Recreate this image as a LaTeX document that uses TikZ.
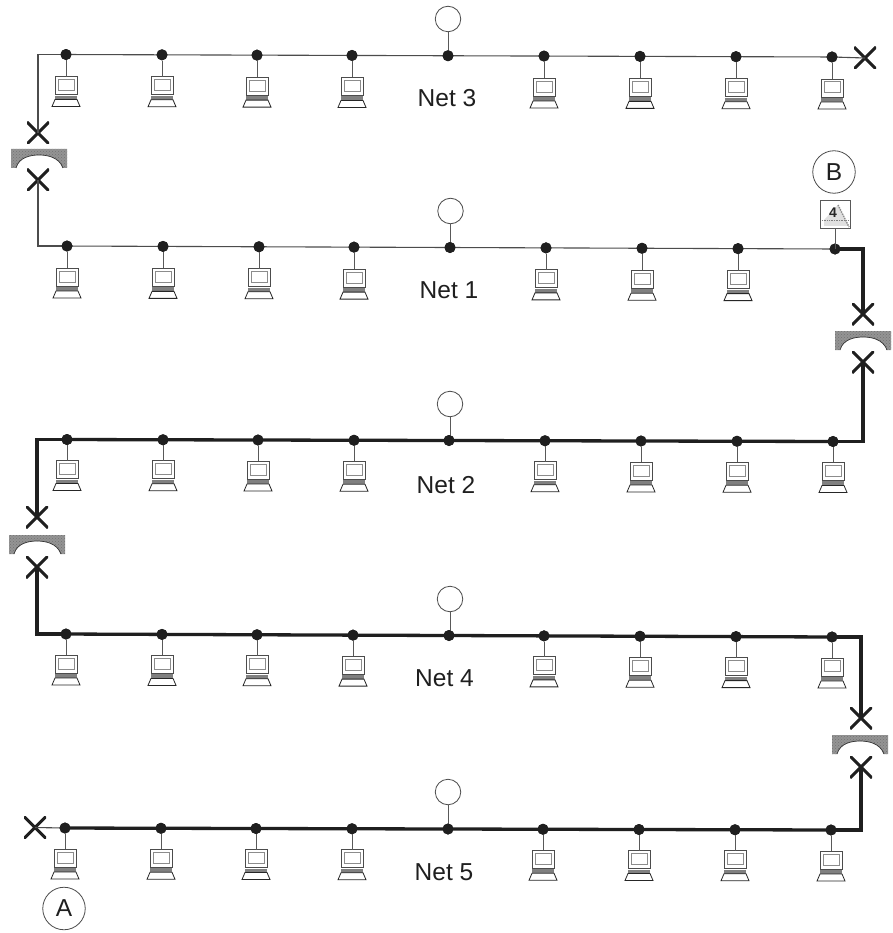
\documentclass[tikz,border=0pt]{standalone}
\usepackage{fontspec}
\setmainfont{Liberation Sans}
\usetikzlibrary{patterns}
\tikzset{
  x=1pt,y=-1pt,
  busdot/.style={circle,fill=black!88,inner sep=0pt,minimum size=11pt},
  thinwire/.style={draw=black!70,line width=1.1pt},
  thickwire/.style={draw=black!88,line width=3.3pt},
  stem/.style={draw=black!65,line width=1pt},
  ringnode/.style={circle,draw=black!70,line width=0.8pt,fill=white,minimum size=25.5pt,inner sep=0pt},
  bigring/.style={circle,draw=black!70,line width=0.8pt,fill=white,minimum size=42.5pt,inner sep=0pt,font=\fontsize{24.5}{25}\selectfont,text=black!88},
  netlabel/.style={font=\fontsize{24.5}{25}\selectfont,text=black!88,inner sep=0pt},
  endmark/.style={minimum size=22pt,inner sep=0pt,path picture={
     \draw[black!88,line width=3pt] (path picture bounding box.south west)--(path picture bounding box.north east)
       (path picture bounding box.north west)--(path picture bounding box.south east);}},
  computer/.pic={
    \coordinate (-top) at (0,0);
    \draw[black!70,line width=.8pt,fill=white] (-11,0) rectangle (11,18);
    \draw[black!45,line width=1pt,fill=white] (-8,3) rectangle (8,14);
    \fill[black!50] (-11,19) rectangle (11,23);
    \draw[black!85,line width=.8pt,fill=white] (-11,23) -- (11,23) -- (14,30) -- (-14,30) -- cycle;
  },
  bridgepic/.pic={
    \fill[black!42] (-28,-10) -- (28,-10) -- (28,9) -- (24,9)
      .. controls (20,-2) and (8,-4) .. (0,-4)
      .. controls (-8,-4) and (-20,-2) .. (-23,9) -- (-28,9) -- cycle;
    \fill[pattern=crosshatch dots,pattern color=black!55] (-28,-10) -- (28,-10) -- (28,9) -- (24,9)
      .. controls (20,-2) and (8,-4) .. (0,-4)
      .. controls (-8,-4) and (-20,-2) .. (-23,9) -- (-28,9) -- cycle;
    \draw[black!80,line width=.7pt] (24,9) .. controls (20,-2) and (8,-4) .. (0,-4)
      .. controls (-8,-4) and (-20,-2) .. (-23,9);
  }
}
\newcommand{\netrow}[6]{% name, y-left, y-right, ring x, ring y, x list
  \foreach \xx [count=\i] in {#6} {
    \pgfmathsetmacro{\yy}{#2+(#3-#2)*(\xx-60)/775}
    \node[busdot] (#1d\i) at (\xx,\yy) {};
  }
  \node[ringnode] (#1r) at (#4,#5) {};
  \draw[stem] (#1r) -- (#1r |- #1d5);
}
\newcommand{\pcs}[3]{% row name, y-offset to monitor, index list
  \foreach \i in {#3} {
    \coordinate (#1c\i) at ([yshift=-#2pt]#1d\i.center);
    \pic (#1p\i) at (#1c\i) {computer};
    \draw[stem] (#1d\i) -- (#1c\i);
  }
}
\begin{document}
\begin{tikzpicture}
\useasboundingbox (0,0) rectangle (892,933);
\fill[white] (0,0) rectangle (892,933);
% nets
\netrow{a}{54.5}{57}{448}{19}{66,162,257,352,448,544,640,736,832}
\netrow{b}{246}{249}{450.5}{211}{67,163,259,354,450,546,642,738,835}
\netrow{c}{439.5}{441.5}{450}{404}{67,163,258,354,449,545,641,737,833}
\netrow{d}{634}{637}{450}{599}{66,162,257,353,449,544,640,736,832}
\netrow{e}{828}{830}{448}{792}{65,161,256,352,448,543,639,735,831}
% end marks and bridges
\node[endmark] (xa) at (865,58) {};
\node[endmark] (x1) at (38,133) {};
\pic (br1) at (39,159) {bridgepic};
\node[endmark] (x2) at (38,180) {};
\node[endmark] (x3) at (863,314) {};
\pic (br2) at (863,341) {bridgepic};
\node[endmark] (x4) at (863,362) {};
\node[endmark] (x5) at (37,517) {};
\pic (br3) at (37,545) {bridgepic};
\node[endmark] (x6) at (37,567) {};
\node[endmark] (x7) at (861,718) {};
\pic (br4) at (860,745) {bridgepic};
\node[endmark] (x8) at (861,767) {};
\node[endmark] (xe) at (35,827.5) {};
% wires: thin
\draw[thinwire] (x1.center) |- (ad1.center);
\draw[thinwire] (ad1.center) -- (ad9.center) -- (xa.center);
\draw[thinwire] (x2.center) |- (bd1.center);
\draw[thinwire] (bd1.center) -- (bd9.center);
\draw[thinwire] (ed1.center) -- (xe.center);
% wires: thick
\draw[thickwire] (bd9.center) -| (x3.center);
\draw[thickwire] (x4.center) |- (cd9.center);
\draw[thickwire] (cd9.center) -- (cd1.center);
\draw[thickwire] (cd1.center) -| (x5.center);
\draw[thickwire] (x6.center) |- (dd1.center);
\draw[thickwire] (dd1.center) -- (dd9.center);
\draw[thickwire] (dd9.center) -| (x7.center);
\draw[thickwire] (x8.center) |- (ed9.center);
\draw[thickwire] (ed9.center) -- (ed1.center);
% redraw dots over wires
\foreach \r in {a,b,c,d,e} \foreach \i in {1,...,9} \node[busdot] at (\r d\i) {};
% computers
\pcs{a}{22}{1,2,3,4,6,7,8,9}
\pcs{b}{22}{1,2,3,4,6,7,8}
\pcs{c}{21}{1,2,3,4,6,7,8,9}
\pcs{d}{21}{1,2,3,4,6,7,8,9}
\pcs{e}{21}{1,2,3,4,6,7,8,9}
% labels
\node[netlabel] (n3) at (447,98) {Net 3};
\node[netlabel] (n1) at (449,290) {Net 1};
\node[netlabel] (n2) at (446,485.5) {Net 2};
\node[netlabel] (n4) at (444.5,678) {Net 4};
\node[netlabel] (n5) at (444,872) {Net 5};
\node[bigring] (A) at (64,908.5) {A};
\node[bigring] (B) at (834,172) {B};
% box 4
\node[draw=black!65,line width=.8pt,minimum width=30pt,minimum height=28pt,inner sep=0pt,fill=white] (four) at (835,214) {};
\fill[black!12] (838,205) -- (849,226) -- (824,226) -- (824,220) -- cycle;
\draw[black!50,line width=.7pt,densely dotted] (822,220) -- (848,220);
\draw[black!45,line width=1.4pt,densely dotted] (838,205) -- (849,227);
\node[font=\bfseries\fontsize{14}{14}\selectfont,text=black!85,inner sep=0pt] (fourtxt) at (833,213) {4};
\draw[stem] (four) -- (four |- bd9);
\end{tikzpicture}
\end{document}
